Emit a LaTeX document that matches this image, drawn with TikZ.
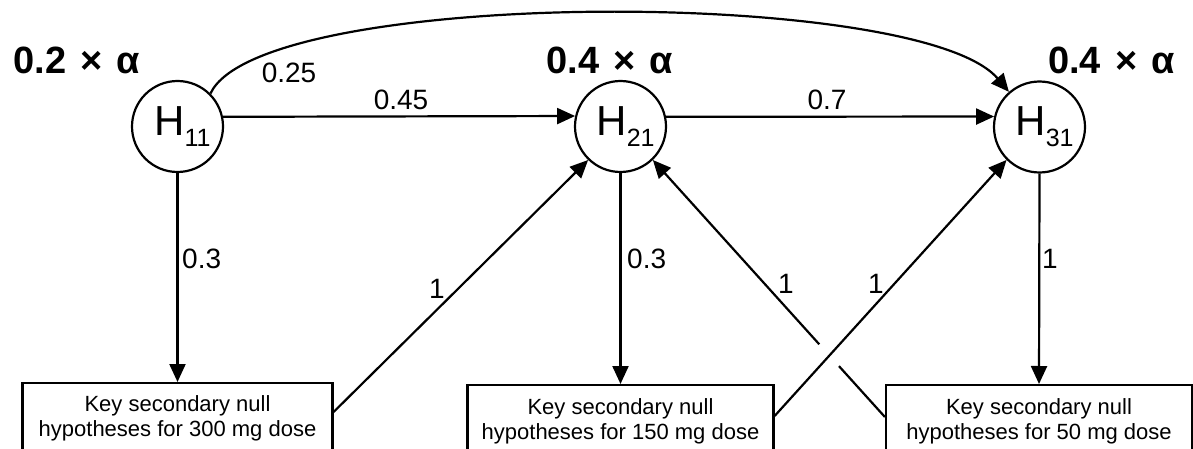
\documentclass[tikz,border=0pt]{standalone}
\usepackage{fontspec}
\setmainfont{Liberation Sans}
\usetikzlibrary{arrows.meta,calc}
\begin{document}
\begin{tikzpicture}[x=1pt,y=-1pt,
  hyp/.style={circle,draw,line width=2.2pt,minimum size=91pt,inner sep=0pt,font=\fontsize{42}{42}\selectfont},
  keybox/.style={draw,line width=2.2pt,minimum height=110pt,anchor=north,inner sep=0pt},
  boxtext/.style={align=center,inner sep=0pt,font=\fontsize{22}{25}\selectfont,anchor=base},
  alphalab/.style={inner sep=0pt,font=\fontsize{38}{38}\selectfont\bfseries,anchor=base},
  wt/.style={inner sep=0pt,font=\fontsize{28}{28}\selectfont},
  arr/.style={line width=2.2pt,-{Triangle[length=18pt,width=16pt]}},
  ln/.style={line width=2.2pt}]
\useasboundingbox (0,0) rectangle (1193,449);
\clip (0,0) rectangle (1193,449);

% hypotheses
\node[hyp] (h11) at (177.5,126.5) {\hspace{10pt}H\raisebox{-11pt}{\fontsize{25}{25}\selectfont 11}};
\node[hyp] (h21) at (620.5,126.5) {\hspace{10pt}H\raisebox{-11pt}{\fontsize{25}{25}\selectfont 21}};
\node[hyp] (h31) at (1039.5,127) {\hspace{10pt}H\raisebox{-11pt}{\fontsize{25}{25}\selectfont 31}};

% alpha weights
\node[alphalab] (a1) at (77,74) {0.2\hspace{0.37em}×\hspace{0.37em}α};
\node[alphalab] (a2) at (610,74) {0.4\hspace{0.37em}×\hspace{0.37em}α};
\node[alphalab] (a3) at (1111.5,74) {0.4\hspace{0.37em}×\hspace{0.37em}α};

% secondary boxes
\node[keybox,minimum width=310pt] (b1) at (177.5,382) {};
\node[keybox,minimum width=306pt] (b2) at (620.5,384) {};
\node[keybox,minimum width=306pt] (b3) at (1039,384) {};
\node[boxtext] (t1) at ($(b1.north)+(0,54)$) {Key secondary null\\hypotheses for 300 mg dose};
\node[boxtext] (t2) at ($(b2.north)+(0,55)$) {Key secondary null\\hypotheses for 150 mg dose};
\node[boxtext] (t3) at ($(b3.north)+(0,55)$) {Key secondary null\\hypotheses for 50 mg dose};

\coordinate (b1e) at ($(b1.north east)+(0,30)$);
\coordinate (b2e) at ($(b2.north east)+(0,32)$);
\coordinate (b3w) at ($(b3.north west)+(0,33)$);

% connectors between primary hypotheses
\draw[arr] (h11.12.5) -- (h21.167.5);
\draw[arr] (h21.12.5) -- (h31.167.5);
\draw[arr] (h11.45) .. controls (260,-13) and (920,-13) .. (h31.131);

% down to secondary
\draw[arr] (h11.south) -- (b1.north);
\draw[arr] (h21.south) -- (b2.north);
\draw[arr] (h31.south) -- (b3.north);

% secondary back up
\draw[arr] (b1e) -- (h21.226);
\draw[arr] (b2e) -- (h31.225);
\draw[ln] (b3w) -- ($(b3w)!0.198!(h21.314)$);
\draw[arr] ($(b3w)!0.283!(h21.314)$) -- (h21.314);

% weights
\node[wt,anchor=base] (w25) at (289,83) {0.25};
\node[wt,anchor=base] (w45) at (401,110) {0.45};
\node[wt,anchor=base] (w7) at (827,110) {0.7};
\node[wt,anchor=base west] (w3a) at (182,268) {0.3};
\node[wt,anchor=base west] (w3b) at (627,268) {0.3};
\node[wt,anchor=base west] (w1c) at (1042,268) {1};
\node[wt,anchor=base] (w1a) at (437,298) {1};
\node[wt,anchor=base] (w1b) at (876,293) {1};
\node[wt,anchor=base] (w1d) at (786,293) {1};
\end{tikzpicture}
\end{document}
